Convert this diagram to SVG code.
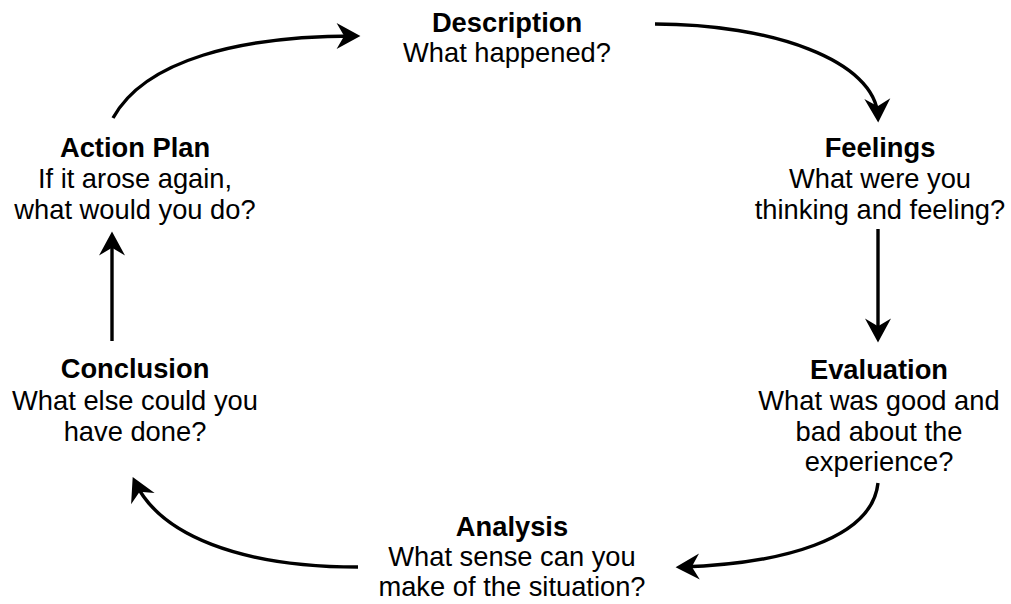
<svg xmlns="http://www.w3.org/2000/svg" width="1011" height="604" viewBox="0 0 1011 604">
  <style>
    text { font-family: "Liberation Sans", Arial, Helvetica, sans-serif; font-size: 27.3px; fill: #000; text-anchor: middle; }
    .t { font-weight: bold; }
    .c { fill: none; stroke: #000; stroke-width: 3.4; marker-end: url(#arrow); }
  </style>
  <defs>
    <marker id="arrow" markerUnits="userSpaceOnUse" markerWidth="24" markerHeight="26" viewBox="0 0 22 24" refX="17" refY="12" orient="auto" overflow="visible">
      <path d="M0,0 L22,12 L0,24 L7,12 Z" fill="#000" stroke="none"/>
    </marker>
  </defs>
  <rect width="1011" height="604" fill="#fff"/>

  <g id="connectors">
    <path class="c" d="M113,118 C145,60 240,36 355,36"/>
    <path class="c" d="M655,24 C770,24 876,60 878,117"/>
    <path class="c" d="M878,229 L878,337"/>
    <path class="c" d="M878,483 C872,540 780,564 681,567"/>
    <path class="c" d="M358,567 C240,567 160,535 135,482"/>
    <path class="c" d="M112,341 L112,237"/>
  </g>

  <g id="description">
    <text x="507" y="31.5" class="t">Description</text>
    <text x="507" y="62">What happened?</text>
  </g>
  <g id="feelings">
    <text x="880" y="157" class="t">Feelings</text>
    <text x="880" y="188">What were you</text>
    <text x="880" y="219">thinking and feeling?</text>
  </g>
  <g id="evaluation">
    <text x="879" y="379" class="t">Evaluation</text>
    <text x="879" y="410">What was good and</text>
    <text x="879" y="441">bad about the</text>
    <text x="879" y="471">experience?</text>
  </g>
  <g id="analysis">
    <text x="512" y="536" class="t">Analysis</text>
    <text x="512" y="566">What sense can you</text>
    <text x="512" y="596">make of the situation?</text>
  </g>
  <g id="conclusion">
    <text x="135" y="378" class="t">Conclusion</text>
    <text x="135" y="410">What else could you</text>
    <text x="135" y="441">have done?</text>
  </g>
  <g id="action-plan">
    <text x="135" y="157" class="t">Action Plan</text>
    <text x="135" y="188">If it arose again,</text>
    <text x="135" y="219">what would you do?</text>
  </g>
</svg>
